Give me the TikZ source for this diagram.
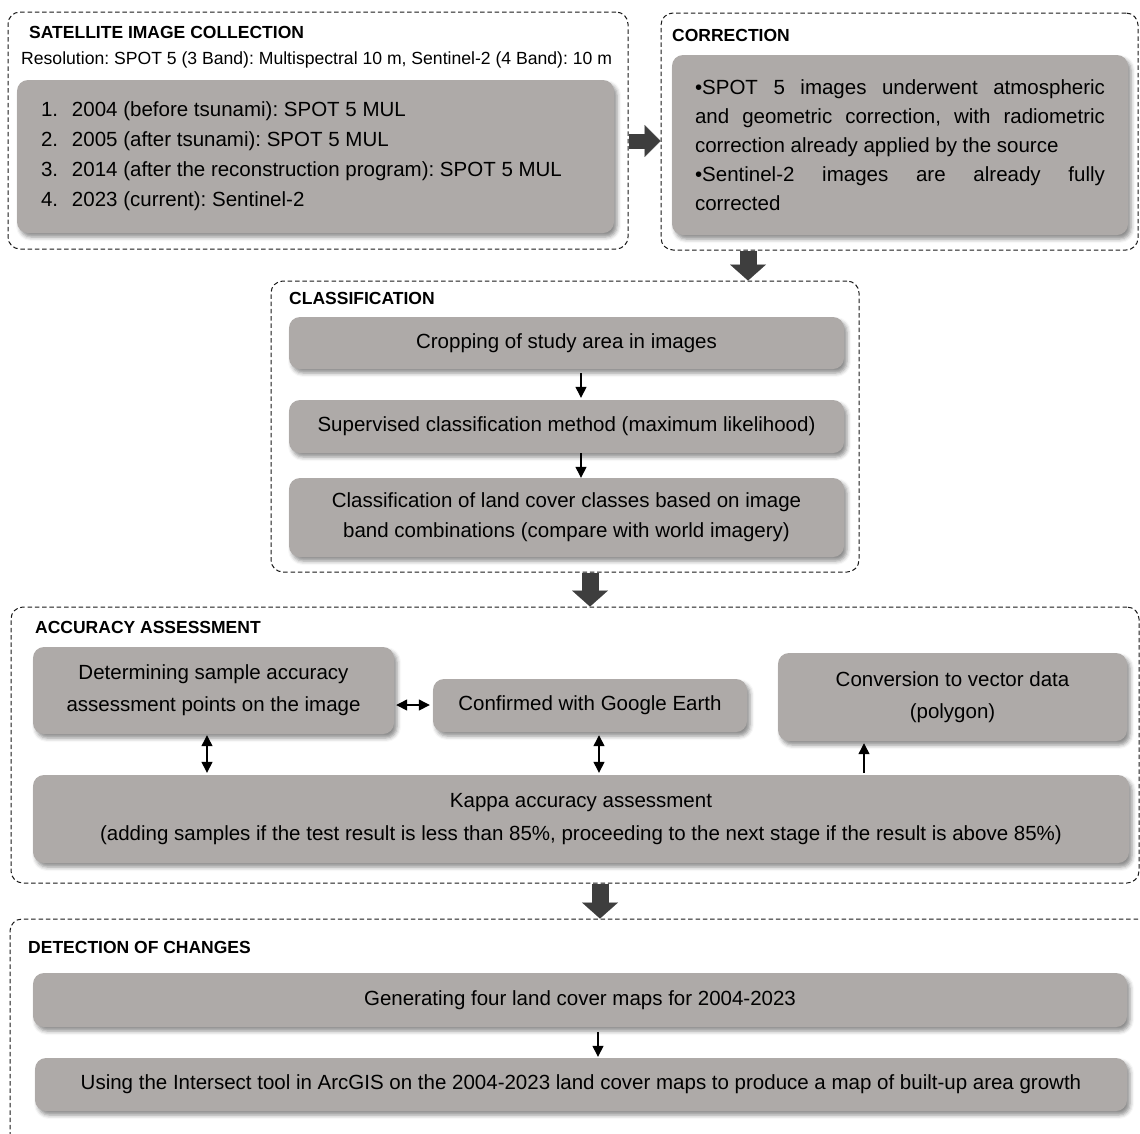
\documentclass[tikz,border=0pt]{standalone}
\usepackage{fontspec}
\setmainfont{Liberation Sans}
\usetikzlibrary{arrows.meta,shadows.blur}
\definecolor{boxgray}{RGB}{174,170,168}
\definecolor{arrowgray}{RGB}{62,62,62}
\definecolor{dashcol}{RGB}{25,25,25}
\tikzset{
 group/.style={draw=dashcol, line width=1pt, dash pattern=on 4.5pt off 2.8pt, rounded corners=12pt, inner sep=0pt},
 gbox/.style={fill=boxgray, rounded corners=11pt, inner sep=0pt, align=center,
   blur shadow={shadow xshift=3pt, shadow yshift=-4pt, shadow blur radius=4pt, shadow opacity=45}},
 ttl/.style={font=\bfseries\fontsize{17.5}{21}\selectfont, anchor=base west, inner sep=0pt},
 sarrow/.style={line width=1.3pt, -{Triangle[length=11pt,width=11pt]}},
 dblarrow/.style={line width=1.3pt, {Triangle[length=11pt,width=11pt]}-{Triangle[length=11pt,width=11pt]}},
 bigv/.style={draw=arrowgray, line width=17pt, -{Triangle[length=16pt,width=36pt,line width=0.1pt]}},
 bigh/.style={draw=arrowgray, line width=15pt, -{Triangle[length=16pt,width=32pt,line width=0.1pt]}},
}
\newcommand{\jline}[1]{\makebox[410pt][s]{#1}}
\newcommand{\numitem}[2]{\makebox[31pt][l]{#1}#2}
\begin{document}
\frenchspacing
\begin{tikzpicture}[x=1pt,y=-1pt,font=\fontsize{20.5}{30}\selectfont]
\useasboundingbox (0,0) rectangle (1140,1133);
\begin{scope}
\clip (0,0) rectangle (1140,1133);
% group frames
\node[group, minimum width=620pt, minimum height=237pt] (sat) at (318,130.5) {};
\node[group, minimum width=477pt, minimum height=237pt] (corr) at (899.5,131.5) {};
\node[group, minimum width=588pt, minimum height=291pt] (cls) at (565,426.5) {};
\node[group, minimum width=1128pt, minimum height=276pt] (acc) at (575,745) {};
\node[group, minimum width=1140pt, minimum height=232pt] (det) at (580,1035) {};
% titles
\node[ttl] (satT) at (29,38) {SATELLITE IMAGE COLLECTION};
\node[inner sep=0pt, anchor=base west, font=\fontsize{17.6}{21}\selectfont] (res) at (21,64) {Resolution: SPOT 5 (3 Band): Multispectral 10 m, Sentinel-2 (4 Band): 10 m};
\node[ttl] (corrT) at (672,41) {CORRECTION};
\node[ttl] (clsT) at (289,304) {CLASSIFICATION};
\node[ttl] (accT) at (35,633) {ACCURACY ASSESSMENT};
\node[ttl] (detT) at (28,953) {DETECTION OF CHANGES};
% satellite list
\node[gbox, minimum width=597pt, minimum height=153pt] (satg) at (315.5,156.5)
 {\parbox{549pt}{\raggedright
  \numitem{1.}{2004 (before tsunami): SPOT 5 MUL}\\
  \numitem{2.}{2005 (after tsunami): SPOT 5 MUL}\\
  \numitem{3.}{2014 (after the reconstruction program): SPOT 5 MUL}\\
  \numitem{4.}{2023 (current): Sentinel-2}}};
% correction
\node[gbox, minimum width=456pt, minimum height=180pt, font=\fontsize{20.5}{29}\selectfont] (corrg) at (900,145)
 {\parbox{410pt}{\raggedright
  \jline{•SPOT 5 images underwent atmospheric}\\
  \jline{and geometric correction, with radiometric}\\
  correction already applied by the source\\
  \jline{•Sentinel-2 images are already fully}\\
  corrected}};
% classification
\node[gbox, minimum width=555pt, minimum height=52pt] (c1) at (566.5,343) {Cropping of study area in images};
\node[gbox, minimum width=555pt, minimum height=53pt] (c2) at (566.5,426.5) {Supervised classification method (maximum likelihood)};
\node[gbox, minimum width=555pt, minimum height=79pt] (c3) at (566.5,517.5) {Classification of land cover classes based on image\\band combinations (compare with world imagery)};
% accuracy
\node[gbox, minimum width=361pt, minimum height=87pt, font=\fontsize{20.5}{32}\selectfont] (A) at (213.5,690.5) {Determining sample accuracy\\assessment points on the image};
\node[gbox, minimum width=314pt, minimum height=53pt] (B) at (590,705.5) {Confirmed with Google Earth};
\node[gbox, minimum width=349pt, minimum height=88pt, font=\fontsize{20.5}{32}\selectfont] (C) at (952.5,697) {Conversion to vector data\\(polygon)};
\node[gbox, minimum width=1096pt, minimum height=88pt, font=\fontsize{20.5}{33}\selectfont] (K) at (581,819) {Kappa accuracy assessment\\(adding samples if the test result is less than 85\%, proceeding to the next stage if the result is above 85\%)};
% detection
\node[gbox, minimum width=1094pt, minimum height=54pt] (D1) at (580,1000) {Generating four land cover maps for 2004-2023};
\node[gbox, minimum width=1092pt, minimum height=53pt] (D2) at (581,1084.5) {Using the Intersect tool in ArcGIS on the 2004-2023 land cover maps to produce a map of built-up area growth};
% big arrows
\draw[bigh] (sat.east |- 0,141) -- (corr.west |- 0,141);
\draw[bigv] (corr.south -| 748,0) -- (cls.north -| 748,0);
\draw[bigv] (cls.south -| 590,0) -- (acc.north -| 590,0);
\draw[bigv] (acc.south -| 600,0) -- (det.north -| 600,0);
% small arrows
\draw[sarrow, shorten <=4pt, shorten >=2pt] (c1.south -| 581,0) -- (c2.north -| 581,0);
\draw[sarrow] (c2.south -| 581,0) -- (c3.north -| 581,0);
\draw[dblarrow, shorten <=2pt, shorten >=3pt] (A.east |- 0,705) -- (B.west |- 0,705);
\draw[dblarrow, shorten <=1pt, shorten >=2pt] (A.south -| 207,0) -- (K.north -| 207,0);
\draw[dblarrow, shorten <=3pt, shorten >=2pt] (B.south -| 599,0) -- (K.north -| 599,0);
\draw[sarrow, shorten <=2pt, shorten >=2pt] (K.north -| 864,0) -- (C.south -| 864,0);
\draw[sarrow, shorten <=5pt, shorten >=1pt] (D1.south -| 598,0) -- (D2.north -| 598,0);
\end{scope}
\end{tikzpicture}
\end{document}
